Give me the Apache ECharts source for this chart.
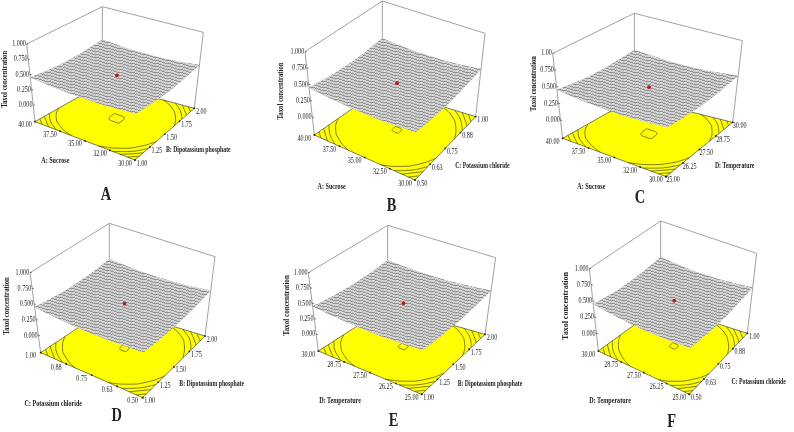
<!DOCTYPE html>
<html><head><meta charset="utf-8">
<script src="https://cdn.jsdelivr.net/npm/echarts@6/dist/echarts.min.js"></script>
<style>html,body{margin:0;background:#fff}#main{width:794px;height:432px;filter:blur(.4px)}</style>
</head><body><div id="main"></div><script>
// ---------- values ----------
const zTickValues = [0, 0.25, 0.5, 0.75, 1];
const zLabels  = ["0.000","0.250","0.500","0.750","1.000"];
const zLabelsC = ["0.000","0.250","0.500","0.750","1.00"];
const sucroseA = ["30.00","32.00","35.00","37.50","40.00"];
const sucroseB = ["30.00","32.50","35.00","37.50","40.00"];
const dipotassium = ["1.00","1.25","1.50","1.75","2.00"];
const potassium = ["0.50","0.63","0.75","0.88","1.00"];
const temperature = ["25.00","26.25","27.50","28.75","30.00"];
const levelsA = [0.3615,0.4125,0.424,0.433,0.444];
const levelsB = [0.3609,0.4125,0.424,0.433,0.444];
const dotZ = [0.432,0.432,0.432,0.432,0.432,0.432];
const surfaceA = [
[.456,.435,.421,.411,.408,.410,.419,.434,.455],
[.436,.415,.400,.390,.387,.390,.399,.414,.434],
[.421,.400,.385,.375,.372,.375,.384,.399,.419],
[.412,.391,.376,.366,.363,.366,.375,.390,.410],
[.409,.388,.373,.363,.360,.363,.372,.387,.407],
[.412,.391,.376,.366,.363,.366,.375,.390,.410],
[.420,.399,.384,.375,.372,.375,.384,.399,.419],
[.435,.414,.399,.390,.387,.390,.399,.414,.434],
[.456,.435,.420,.411,.408,.411,.420,.435,.456]];
const surfaceB = [
[.455,.434,.420,.410,.408,.411,.420,.436,.457],
[.434,.414,.399,.390,.387,.390,.400,.415,.436],
[.419,.399,.384,.375,.372,.375,.385,.400,.421],
[.410,.390,.375,.366,.363,.366,.376,.391,.412],
[.407,.387,.372,.363,.360,.363,.373,.388,.409],
[.410,.390,.375,.366,.363,.366,.375,.391,.411],
[.419,.399,.384,.375,.372,.375,.384,.399,.420],
[.434,.414,.399,.390,.387,.390,.399,.414,.435],
[.455,.435,.420,.411,.408,.411,.420,.435,.456]];
const surfaceC = [
[.457,.435,.420,.411,.408,.411,.419,.434,.454],
[.436,.415,.399,.390,.387,.390,.399,.413,.433],
[.421,.400,.384,.375,.372,.375,.383,.398,.418],
[.412,.390,.375,.366,.363,.366,.374,.389,.409],
[.409,.387,.372,.363,.360,.363,.371,.386,.406],
[.412,.390,.375,.366,.363,.366,.374,.389,.409],
[.421,.399,.384,.375,.372,.375,.383,.398,.418],
[.436,.414,.399,.390,.387,.390,.398,.413,.433],
[.457,.435,.420,.411,.408,.411,.419,.434,.454]];
const surfaceD = [
[.454,.434,.420,.411,.408,.411,.421,.436,.458],
[.434,.414,.399,.390,.387,.390,.400,.415,.437],
[.419,.399,.384,.375,.372,.375,.385,.400,.422],
[.410,.390,.375,.366,.363,.366,.376,.391,.413],
[.407,.387,.372,.363,.360,.363,.373,.388,.410],
[.410,.390,.375,.366,.363,.366,.376,.391,.413],
[.419,.399,.384,.375,.372,.375,.385,.400,.422],
[.435,.414,.399,.390,.387,.390,.400,.415,.437],
[.456,.435,.421,.411,.408,.411,.421,.436,.458]];
const surfaceE = [
[.455,.435,.420,.411,.408,.411,.420,.435,.456],
[.435,.414,.399,.390,.387,.390,.399,.414,.435],
[.420,.399,.384,.375,.372,.375,.384,.399,.420],
[.411,.390,.375,.366,.363,.366,.375,.390,.411],
[.408,.387,.372,.363,.360,.363,.372,.387,.408],
[.411,.390,.375,.366,.363,.366,.375,.390,.411],
[.420,.399,.384,.375,.372,.375,.384,.399,.420],
[.436,.415,.400,.390,.387,.390,.399,.414,.435],
[.457,.436,.421,.412,.409,.412,.420,.435,.456]];
const surfaceF = [
[.454,.434,.419,.410,.407,.410,.420,.436,.458],
[.434,.414,.399,.390,.387,.390,.400,.416,.438],
[.419,.399,.384,.375,.372,.375,.385,.401,.423],
[.410,.390,.375,.366,.363,.366,.376,.392,.414],
[.407,.387,.372,.363,.360,.363,.373,.389,.411],
[.410,.390,.375,.366,.363,.366,.376,.392,.414],
[.420,.400,.385,.375,.372,.375,.385,.401,.423],
[.435,.415,.400,.390,.387,.390,.400,.416,.438],
[.456,.436,.421,.411,.408,.411,.421,.437,.459]];

// ---------- layout (reference pixels ×3 inside each 265×216 tile) ----------
const Z_FLOOR = -0.27;
const panels = [
 {name:'A',off:[0,0],L:[105,365],R:[583,325],F:[405,480],T:[307,20],tL:[80,132],tR:[610,97],
  z:surfaceA,lev:levelsA,zl:zLabels,ul:sucroseA,vl:dipotassium,ut:'A: Sucrose',vt:'B: Dipotassium phosphate',
  utp:[166,484],vtp:[595,449],ztp:[15,238],zs:.84,let:[318,585]},
 {name:'B',off:[265,0],L:[148,405],R:[632,350],F:[450,540],T:[352,3],tL:[120,155],tR:[660,100],
  z:surfaceB,lev:levelsB,zl:zLabels,ul:sucroseB,vl:potassium,ut:'A: Sucrose',vt:'C: Potassium chloride',
  utp:[200,562],vtp:[652,497],ztp:[47,273],zs:.84,let:[380,618]},
 {name:'C',off:[530,0],L:[98,415],R:[608,367],F:[408,530],T:[313,40],tL:[68,160],tR:[637,122],
  z:surfaceC,lev:levelsA,zl:zLabelsC,ul:sucroseA,vl:temperature,ut:'A: Sucrose',vt:'D: Temperature',
  utp:[184,561],vtp:[614,498],ztp:[11,251],zs:.81,let:[330,596]},
 {name:'D',off:[0,216],L:[122,410],R:[615,360],F:[428,545],T:[328,22],tL:[90,170],tR:[645,122],
  z:surfaceD,lev:levelsB,zl:zLabels,ul:potassium,vl:dipotassium,ut:'C: Potassium chloride',vt:'B: Dipotassium phosphate',
  utp:[160,565],vtp:[635,503],ztp:[20,270],zs:.85,let:[350,600]},
 {name:'E',off:[265,216],L:[160,405],R:[660,355],F:[470,535],T:[368,28],tL:[130,170],tR:[692,125],
  z:surfaceE,lev:levelsB,zl:zLabels,ul:temperature,vl:dipotassium,ut:'D: Temperature',vt:'B: Dipotassium phosphate',
  utp:[225,554],vtp:[675,505],ztp:[66,268],zs:.89,let:[386,615]},
 {name:'F',off:[530,216],L:[205,405],R:[652,352],F:[478,535],T:[392,15],tL:[178,158],tR:[680,112],
  z:surfaceF,lev:levelsB,zl:zLabels,ul:temperature,vl:potassium,ut:'D: Temperature',vt:'C: Potassium chloride',
  utp:[240,555],vtp:[686,498],ztp:[108,270],zs:1,let:[425,618]}
];
const FONT='Liberation Serif', TEXT='#222';

function px(p,off){return [p[0]/3+off[0],p[1]/3+off[1]];}
panels.forEach(p=>{
  ['L','R','F','T','tL','tR'].forEach(k=>p[k]=px(p[k],p.off));
  p.utp=px(p.utp,p.off);p.vtp=px(p.vtp,p.off);p.ztp=px(p.ztp,p.off);p.let=px(p.let,p.off);
  const mid=(p.L[1]+p.R[1])/2, tmid=(p.tL[1]+p.tR[1])/2;
  p.B=[p.T[0], mid-0.7*(p.F[1]-mid)];
  p.tF=[p.F[0]+1.7, tmid+1.286*(tmid-p.T[1])];
});
function bil(a,b,c,d,u,v,k){return (1-u)*(1-v)*a[k]+u*(1-v)*b[k]+(1-u)*v*c[k]+u*v*d[k];}
function project(p,u,v,z){
  const f=(z-Z_FLOOR)/(1-Z_FLOOR);
  const x0=bil(p.F,p.L,p.R,p.B,u,v,0),y0=bil(p.F,p.L,p.R,p.B,u,v,1);
  const x1=bil(p.tF,p.tL,p.tR,p.T,u,v,0),y1=bil(p.tF,p.tL,p.tR,p.T,u,v,1);
  return [x0+(x1-x0)*f,y0+(y1-y0)*f];
}
function contour(tab,lev){
  const n=tab.length-1,segs=[];
  const cross=(a,b,pa,pb)=>{const t=(lev-a)/(b-a);return [pa[0]+(pb[0]-pa[0])*t,pa[1]+(pb[1]-pa[1])*t];};
  for(let i=0;i<n;i++)for(let j=0;j<n;j++){
    const c=[[i,j],[i+1,j],[i+1,j+1],[i,j+1]],pts=[];
    for(let e=0;e<4;e++){
      const a=c[e],b=c[(e+1)%4],za=tab[a[0]][a[1]],zb=tab[b[0]][b[1]];
      if((za<lev)!==(zb<lev))pts.push(cross(za,zb,[a[0]/n,a[1]/n],[b[0]/n,b[1]/n]));
    }
    if(pts.length>=2)segs.push([pts[0],pts[1]]);
    if(pts.length===4)segs.push([pts[2],pts[3]]);
  }
  const key=q=>q[0].toFixed(4)+','+q[1].toFixed(4),used=segs.map(()=>false),out=[];
  const next=(end)=>{for(let s=0;s<segs.length;s++){if(used[s])continue;
    if(key(segs[s][0])===key(end)){used[s]=true;return segs[s][1];}
    if(key(segs[s][1])===key(end)){used[s]=true;return segs[s][0];}}return null;};
  for(let s=0;s<segs.length;s++){if(used[s])continue;used[s]=true;
    const line=[segs[s][0],segs[s][1]];let q;
    while((q=next(line[line.length-1])))line.push(q);
    while((q=next(line[0])))line.unshift(q);
    out.push(line);}
  return out;
}
function meshPattern(){
  const W=12,H=12,c=document.createElement('canvas');c.width=W;c.height=H;
  const g=c.getContext('2d');g.fillStyle='#d9d9d9';g.fillRect(0,0,W,H);
  g.fillStyle='rgba(80,80,80,.5)';
  for(let x=0;x<W;x++)for(let k=0;k<4;k++)g.fillRect(x,(Math.floor(x/3)+3*k)%H,1,1);
  g.fillStyle='rgba(80,80,80,.2)';
  for(let y=0;y<H;y++)for(let k=0;k<3;k++)g.fillRect(((4*k-Math.floor(y*4/3))%W+W)%W,y,1,1);
  return {image:c,repeat:'repeat'};
}
const mesh=meshPattern();
const txt=(at,text,o)=>({type:'text',x:at[0],y:at[1],scaleX:o.sx||.76,rotation:o.rot||0,silent:true,
  style:{text,fontFamily:FONT,fontSize:o.size||8,fontWeight:o.bold?'bold':'normal',fill:TEXT,align:o.align||'center',verticalAlign:'middle'}});
const lin=(a,b,color,w)=>({type:'line',shape:{x1:a[0],y1:a[1],x2:b[0],y2:b[1]},style:{stroke:color,lineWidth:w||.7}});
const same=(a,b)=>Math.abs(a[0]-b[0])<1e-6&&Math.abs(a[1]-b[1])<1e-6;

const series=[];
panels.forEach((p,pi)=>{
  const n=p.z.length-1,C=(api,q)=>api.coord(q);
  // box and floor with contours
  series.push({type:'custom',coordinateSystem:'cartesian2d',silent:true,clip:false,z:1,data:[[pi]],
    renderItem:(par,api)=>{
      const c=q=>C(api,q),kids=[];
      [[p.tL,p.T],[p.T,p.tR],[p.tL,p.L],[p.tR,p.R],[p.T,p.B]].forEach(s=>kids.push(lin(c(s[0]),c(s[1]),'#8a8a8a',.8)));
      kids.push({type:'polygon',shape:{points:[p.L,p.F,p.R,p.B].map(c)},style:{fill:'#ffff00',stroke:'#444',lineWidth:.7}});
      p.lev.forEach(l=>contour(p.z,l).forEach(line=>{
        const closed=same(line[0],line[line.length-1]),pts=(closed?line.slice(1):line).map(q=>c(project(p,q[0],q[1],Z_FLOOR)));
        kids.push({type:closed?'polygon':'polyline',shape:{points:pts,smooth:closed?1:.35},style:{fill:null,stroke:'#4a4a22',lineWidth:.7}});
      }));
      return {type:'group',children:kids};
    }});
  // surface cells
  const cells=[];for(let i=0;i<n;i++)for(let j=0;j<n;j++)cells.push([i,j]);
  series.push({type:'custom',coordinateSystem:'cartesian2d',silent:true,clip:false,z:2,data:[[0,0]],
    renderItem:(par,api)=>{
      const c0=q=>C(api,q),pt=(i,j)=>c0(project(p,i/n,j/n,p.z[i][j])),edge=[];
      for(let k=0;k<=n;k++)edge.push(pt(k,0));for(let k=1;k<=n;k++)edge.push(pt(n,k));
      for(let k=n-1;k>=0;k--)edge.push(pt(k,n));for(let k=n-1;k>0;k--)edge.push(pt(0,k));
      return {type:'group',children:[{type:'polygon',shape:{points:edge},style:{fill:'#b4b4b4'}}]};
    }});
  series.push({type:'custom',coordinateSystem:'cartesian2d',silent:true,clip:false,z:3,data:cells,
    renderItem:(par,api)=>{
      const i=api.value(0),j=api.value(1),pt=(a,b)=>C(api,project(p,a/n,b/n,p.z[a][b]));
      return {type:'polygon',shape:{points:[pt(i,j),pt(i+1,j),pt(i+1,j+1),pt(i,j+1)]},style:{fill:mesh}};
    }});
  // design point
  series.push({type:'custom',coordinateSystem:'cartesian2d',silent:true,clip:false,z:4,data:[[.5,.5,dotZ[pi]]],
    renderItem:(par,api)=>{
      const q=C(api,project(p,api.value(0),api.value(1),api.value(2)));
      return {type:'circle',shape:{cx:q[0],cy:q[1],r:1.9},style:{fill:'#b01c1c'}};
    }});
  // axes: ticks and text
  series.push({type:'custom',coordinateSystem:'cartesian2d',silent:true,clip:false,z:5,data:[[pi]],
    renderItem:(par,api)=>{
      const c=q=>C(api,q),kids=[];
      zTickValues.forEach((z,i)=>{
        const q=c(project(p,1,0,z));
        kids.push(lin(q,[q[0]+1.6,q[1]],'#333'));
        kids.push(txt([q[0]-.8,q[1]],p.zl[i],{align:'right'}));
      });
      p.ul.forEach((s,i)=>{
        const q=c(project(p,i/4,0,Z_FLOOR));
        kids.push({type:'rect',shape:{x:q[0]-.8,y:q[1]-.8,width:1.6,height:1.6},style:{fill:'#222'}});
        kids.push(txt([q[0]-10,q[1]+3.5],s,{}));
      });
      p.vl.forEach((s,i)=>{
        const q=c(project(p,0,i/4,Z_FLOOR));
        kids.push({type:'rect',shape:{x:q[0]-.8,y:q[1]-.8,width:1.6,height:1.6},style:{fill:'#222'}});
        kids.push(txt([q[0]+7,q[1]+3.5],s,{}));
      });
      kids.push(txt(c(p.utp),p.ut,{bold:true}));
      kids.push(txt(c(p.vtp),p.vt,{bold:true,sx:.72}));
      kids.push(txt(c(p.ztp),'Taxol concentration',{bold:true,sx:p.zs,rot:Math.PI/2}));
      kids.push(txt(c(p.let),p.name,{bold:true,size:18,sx:.8}));
      return {type:'group',children:kids};
    }});
});
const chart=echarts.init(document.getElementById('main'),null,{renderer:'canvas'});
chart.setOption({animation:false,backgroundColor:'#fff',
  grid:{left:0,right:0,top:0,bottom:0},
  xAxis:{type:'value',min:0,max:794,show:false},
  yAxis:{type:'value',min:0,max:432,inverse:true,show:false},
  tooltip:{show:false},series});
</script></body></html>
